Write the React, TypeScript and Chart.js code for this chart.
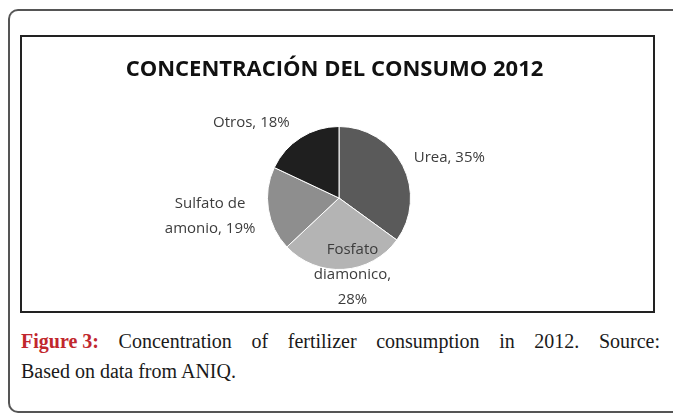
import React, { useEffect, useRef } from "react";
import { Chart, registerables } from "chart.js";

Chart.register(...registerables);

const chartTitle = "CONCENTRACIÓN DEL CONSUMO 2012";
const categories = ["Urea", "Fosfato diamonico", "Sulfato de amonio", "Otros"];
const shares = [35, 28, 19, 18];
const sliceColors = ["#5a5a5a", "#b4b4b4", "#8e8e8e", "#1f1f1f"];

// label placement relative to each slice's outer mid-point
const labelPlacement = [
  { align: "left", dx: 11, dy: -8, wrap: 200 },
  { align: "center", dx: 9, dy: 5, wrap: 85 },
  { align: "right", dx: -13, dy: 7, wrap: 100 },
  { align: "right", dx: -11, dy: -15, wrap: 200 },
];

const LABEL_FONT = "15px 'Open Sans'";
const LINE_H = 25;

function wrapText(ctx: CanvasRenderingContext2D, text: string, maxW: number) {
  const words = text.split(" ");
  const lines: string[] = [];
  let cur = "";
  for (const w of words) {
    const test = cur ? cur + " " + w : w;
    if (cur && ctx.measureText(test).width > maxW) {
      lines.push(cur);
      cur = w;
    } else cur = test;
  }
  if (cur) lines.push(cur);
  return lines;
}

const labelPlugin = {
  id: "sliceLabels",
  afterDatasetsDraw(chart: any) {
    const ctx: CanvasRenderingContext2D = chart.ctx;
    const meta = chart.getDatasetMeta(0);
    ctx.save();
    // title
    ctx.font = "bold 22px 'Open Sans'";
    ctx.fillStyle = "#111";
    ctx.textAlign = "center";
    ctx.textBaseline = "middle";
    ctx.fillText(chartTitle, chart.width / 2 - 3, 33);

    ctx.font = LABEL_FONT;
    ctx.fillStyle = "#3c3c3c";
    ctx.textAlign = "center";
    meta.data.forEach((arc: any, i: number) => {
      const p = arc.getProps(["x", "y", "startAngle", "endAngle", "outerRadius"], true);
      const mid = (p.startAngle + p.endAngle) / 2;
      const px = p.x + Math.cos(mid) * p.outerRadius;
      const py = p.y + Math.sin(mid) * p.outerRadius;
      const pl = labelPlacement[i];
      const text = `${categories[i]}, ${shares[i]}%`;
      const lines = wrapText(ctx, text, pl.wrap);
      const blockW = Math.max(...lines.map((l) => ctx.measureText(l).width));
      let cx = px + pl.dx;
      if (pl.align === "left") cx += blockW / 2;
      if (pl.align === "right") cx -= blockW / 2;
      const cy = py + pl.dy;
      const y0 = cy - ((lines.length - 1) * LINE_H) / 2;
      lines.forEach((ln, k) => ctx.fillText(ln, cx, y0 + k * LINE_H));
    });
    ctx.restore();
  },
};

export default function App() {
  const ref = useRef<HTMLCanvasElement | null>(null);
  useEffect(() => {
    if (!ref.current) return;
    const chart = new Chart(ref.current, {
      type: "pie",
      data: {
        labels: categories,
        datasets: [
          {
            data: shares,
            backgroundColor: sliceColors,
            borderColor: "#ffffff",
            borderWidth: 1,
          },
        ],
      },
      options: {
        animation: false,
        responsive: false,
        maintainAspectRatio: false,
        layout: { padding: { top: 89, bottom: 41, left: 3, right: 0 } },
        plugins: {
          legend: { display: false },
          title: { display: false },
          tooltip: { enabled: false },
        },
      },
      plugins: [labelPlugin],
    });
    return () => chart.destroy();
  }, []);

  return (
    <div style={{ position: "fixed", left: 0, top: 0, width: 673, height: 414, background: "#fff", overflow: "hidden" }}>
      <div
        style={{
          position: "absolute",
          left: 8,
          top: 9,
          width: 1000,
          height: 404,
          borderTop: "2px solid #555",
          borderLeft: "2px solid #555",
          borderBottom: "2px solid #555",
          borderRight: "none",
          borderRadius: "10px 0 0 10px",
          boxSizing: "border-box",
        }}
      />
      <div
        style={{
          position: "absolute",
          left: 20,
          top: 35,
          width: 635,
          height: 278,
          border: "2px solid #222",
          boxSizing: "border-box",
        }}
      >
        <canvas ref={ref} width={631} height={274} style={{ display: "block" }} />
      </div>
      <div
        style={{
          position: "absolute",
          left: 21,
          top: 326,
          width: 639,
          fontFamily: "'Liberation Serif', serif",
          fontSize: 20,
          lineHeight: "30px",
          color: "#1a1a1a",
        }}
      >
        <div style={{ textAlign: "justify", textAlignLast: "justify" }}>
          <span style={{ color: "#c1272d", fontWeight: "bold", display: "inline-block" }}>Figure 3:</span> Concentration of
          fertilizer consumption in 2012. Source:
        </div>
        <div>Based on data from ANIQ.</div>
      </div>
    </div>
  );
}
